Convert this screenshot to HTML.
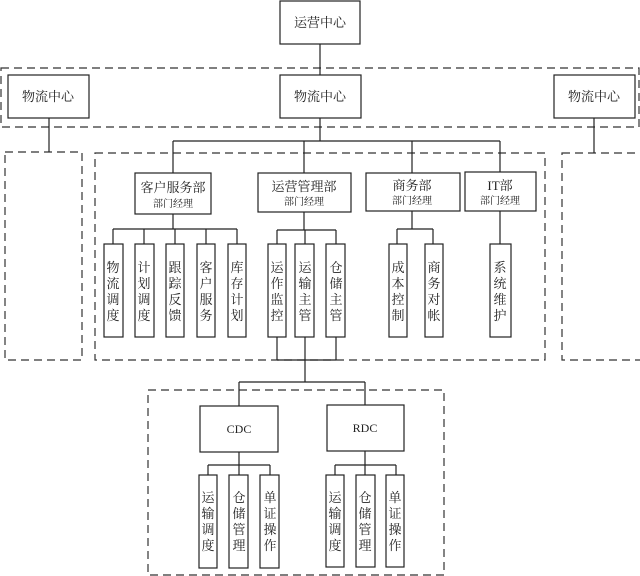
<!DOCTYPE html>
<html><head><meta charset="utf-8"><style>
html,body{margin:0;padding:0;background:#fff;}
svg{display:block;font-family:"Liberation Serif","Noto Serif CJK SC","Noto Sans CJK SC",serif;}
text{fill:#222;}
</style></head><body>
<svg width="640" height="576" viewBox="0 0 640 576" xmlns="http://www.w3.org/2000/svg">
<g fill="none" stroke="#333" stroke-width="1.2" stroke-dasharray="8,5">
<rect x="1" y="68" width="638" height="59"/>
<rect x="5" y="152" width="77" height="208"/>
<rect x="562" y="153" width="80" height="207"/>
<rect x="95" y="153" width="450" height="207"/>
<rect x="148" y="390" width="296" height="185"/>
</g>
<g fill="none" stroke="#222" stroke-width="1.2">
<line x1="320" y1="44" x2="320" y2="75"/>
<line x1="320" y1="118" x2="320" y2="141"/>
<line x1="173" y1="141" x2="500" y2="141"/>
<line x1="173" y1="141" x2="173" y2="173"/>
<line x1="304" y1="141" x2="304" y2="173"/>
<line x1="412" y1="141" x2="412" y2="173"/>
<line x1="500" y1="141" x2="500" y2="172"/>
<line x1="49" y1="118" x2="49" y2="152"/>
<line x1="594" y1="118" x2="594" y2="153"/>
<line x1="173" y1="214" x2="173" y2="229"/>
<line x1="113" y1="229" x2="237" y2="229"/>
<line x1="113" y1="229" x2="113" y2="244"/><line x1="144" y1="229" x2="144" y2="244"/><line x1="175" y1="229" x2="175" y2="244"/><line x1="206" y1="229" x2="206" y2="244"/><line x1="237" y1="229" x2="237" y2="244"/>
<line x1="304" y1="212" x2="304" y2="230"/>
<line x1="277" y1="230" x2="336" y2="230"/>
<line x1="277" y1="230" x2="277" y2="244"/><line x1="305" y1="230" x2="305" y2="244"/><line x1="336" y1="230" x2="336" y2="244"/>
<line x1="412" y1="211" x2="412" y2="229"/>
<line x1="397" y1="229" x2="433" y2="229"/>
<line x1="397" y1="229" x2="397" y2="244"/><line x1="433" y1="229" x2="433" y2="244"/>
<line x1="500" y1="211" x2="500" y2="244"/>
<line x1="277" y1="337" x2="277" y2="360"/><line x1="305" y1="337" x2="305" y2="382"/><line x1="336" y1="337" x2="336" y2="360"/>
<line x1="277" y1="360" x2="336" y2="360"/>
<line x1="239" y1="382" x2="365" y2="382"/>
<line x1="239" y1="382" x2="239" y2="406"/><line x1="365" y1="382" x2="365" y2="405"/>
<line x1="239" y1="452" x2="239" y2="465"/>
<line x1="208" y1="465" x2="270" y2="465"/>
<line x1="208" y1="465" x2="208" y2="475"/><line x1="239" y1="465" x2="239" y2="475"/><line x1="270" y1="465" x2="270" y2="475"/>
<line x1="365" y1="451" x2="365" y2="465"/>
<line x1="335" y1="465" x2="396" y2="465"/>
<line x1="335" y1="465" x2="335" y2="475"/><line x1="365" y1="465" x2="365" y2="475"/><line x1="396" y1="465" x2="396" y2="475"/>
</g>
<g fill="#fff" stroke="#222" stroke-width="1.2">
<rect x="280" y="1" width="80" height="43"/>
<rect x="8" y="75" width="81" height="43"/>
<rect x="280" y="75" width="81" height="43"/>
<rect x="554" y="75" width="81" height="43"/>
<rect x="135" y="173" width="76" height="41"/>
<rect x="258" y="173" width="93" height="39"/>
<rect x="366" y="173" width="94" height="38"/>
<rect x="465" y="172" width="71" height="39"/>
<rect x="104" y="244" width="19" height="93"/><rect x="135" y="244" width="19" height="93"/><rect x="166" y="244" width="18" height="93"/><rect x="197" y="244" width="18" height="93"/><rect x="228" y="244" width="18" height="93"/>
<rect x="268" y="244" width="18" height="93"/><rect x="295" y="244" width="19" height="93"/><rect x="326" y="244" width="19" height="93"/>
<rect x="389" y="244" width="18" height="93"/><rect x="425" y="244" width="18" height="93"/>
<rect x="490" y="244" width="21" height="93"/>
<rect x="200" y="406" width="78" height="46"/>
<rect x="327" y="405" width="77" height="46"/>
<rect x="199" y="475" width="18" height="93"/><rect x="229" y="475" width="19" height="93"/><rect x="260" y="475" width="19" height="93"/>
<rect x="326" y="475" width="18" height="92"/><rect x="356" y="475" width="19" height="92"/><rect x="386" y="475" width="18" height="92"/>
</g>
<g font-size="13" text-anchor="middle">
<text x="320" y="27">运营中心</text>
<text x="48" y="101">物流中心</text>
<text x="320" y="101">物流中心</text>
<text x="594" y="101">物流中心</text>
<text x="173" y="192" font-size="13">客户服务部</text>
<text x="304" y="191">运营管理部</text>
<text x="412" y="190">商务部</text>
<text x="500" y="190">IT部</text>
<text x="239" y="433" font-size="12">CDC</text>
<text x="365" y="432" font-size="12">RDC</text>
</g>
<g font-size="10" text-anchor="middle">
<text x="173" y="207">部门经理</text>
<text x="304" y="205">部门经理</text>
<text x="412" y="204">部门经理</text>
<text x="500" y="204">部门经理</text>
</g>
<g font-size="13" text-anchor="middle">
<text x="113" y="272">物</text><text x="113" y="288">流</text><text x="113" y="304">调</text><text x="113" y="320">度</text>
<text x="144" y="272">计</text><text x="144" y="288">划</text><text x="144" y="304">调</text><text x="144" y="320">度</text>
<text x="175" y="272">跟</text><text x="175" y="288">踪</text><text x="175" y="304">反</text><text x="175" y="320">馈</text>
<text x="206" y="272">客</text><text x="206" y="288">户</text><text x="206" y="304">服</text><text x="206" y="320">务</text>
<text x="237" y="272">库</text><text x="237" y="288">存</text><text x="237" y="304">计</text><text x="237" y="320">划</text>
<text x="277" y="272">运</text><text x="277" y="288">作</text><text x="277" y="304">监</text><text x="277" y="320">控</text>
<text x="305" y="272">运</text><text x="305" y="288">输</text><text x="305" y="304">主</text><text x="305" y="320">管</text>
<text x="336" y="272">仓</text><text x="336" y="288">储</text><text x="336" y="304">主</text><text x="336" y="320">管</text>
<text x="398" y="272">成</text><text x="398" y="288">本</text><text x="398" y="304">控</text><text x="398" y="320">制</text>
<text x="434" y="272">商</text><text x="434" y="288">务</text><text x="434" y="304">对</text><text x="434" y="320">帐</text>
<text x="500" y="272">系</text><text x="500" y="288">统</text><text x="500" y="304">维</text><text x="500" y="320">护</text>
<text x="208" y="502">运</text><text x="208" y="518">输</text><text x="208" y="534">调</text><text x="208" y="550">度</text>
<text x="239" y="502">仓</text><text x="239" y="518">储</text><text x="239" y="534">管</text><text x="239" y="550">理</text>
<text x="270" y="502">单</text><text x="270" y="518">证</text><text x="270" y="534">操</text><text x="270" y="550">作</text>
<text x="335" y="502">运</text><text x="335" y="518">输</text><text x="335" y="534">调</text><text x="335" y="550">度</text>
<text x="365" y="502">仓</text><text x="365" y="518">储</text><text x="365" y="534">管</text><text x="365" y="550">理</text>
<text x="395" y="502">单</text><text x="395" y="518">证</text><text x="395" y="534">操</text><text x="395" y="550">作</text>
</g>
</svg>
</body></html>
